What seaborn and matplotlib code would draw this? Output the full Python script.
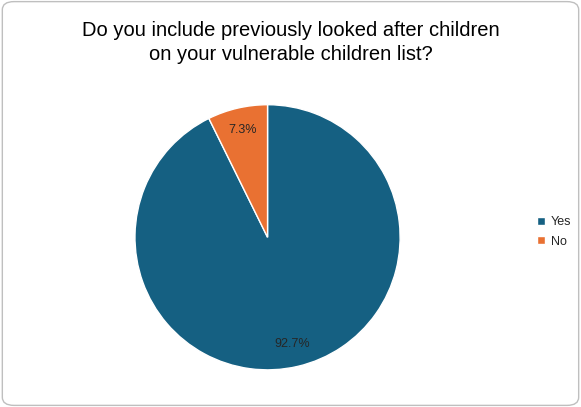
import matplotlib
matplotlib.use("Agg")
import matplotlib.pyplot as plt
import seaborn as sns
from matplotlib.patches import FancyBboxPatch

sns.set_theme(style="white")
plt.rcParams['font.family'] = ['Liberation Sans', 'DejaVu Sans']

labels = ["Yes", "No"]
values = [92.7, 7.3]
colors = ["#156082", "#E97132"]

fig = plt.figure(figsize=(5.81, 4.07), dpi=100)
fig.patch.set_facecolor("white")
border = FancyBboxPatch((0.004, 0.004), 0.992, 0.992, boxstyle="round,pad=0,rounding_size=0.02",
                        transform=fig.transFigure, fill=False, edgecolor="#bfbfbf", linewidth=1)
fig.patches.append(border)

ax = fig.add_axes([0.23, 0.088, 0.461, 0.658])
wedges, texts, autotexts = ax.pie(values, colors=colors, startangle=90, counterclock=False,
                                  autopct="%.1f%%", pctdistance=0.83,
                                  wedgeprops=dict(edgecolor="white", linewidth=1),
                                  textprops=dict(fontsize=9, color="#262626"))
ax.set_xlim(-1.01, 1.01)
ax.set_ylim(-1.01, 1.01)
ax.set_aspect("equal")

fig.text(0.5, 0.895, "Do you include previously looked after children\non your vulnerable children list?",
         ha="center", va="center", fontsize=14.5, color="#000000", linespacing=1.3)

fig.legend(wedges, labels, loc="center left", bbox_to_anchor=(0.905, 0.43), frameon=False,
           fontsize=9, handlelength=0.6, handleheight=0.6, handletextpad=0.5, labelspacing=0.6)

fig.savefig("out.png", dpi=100)
